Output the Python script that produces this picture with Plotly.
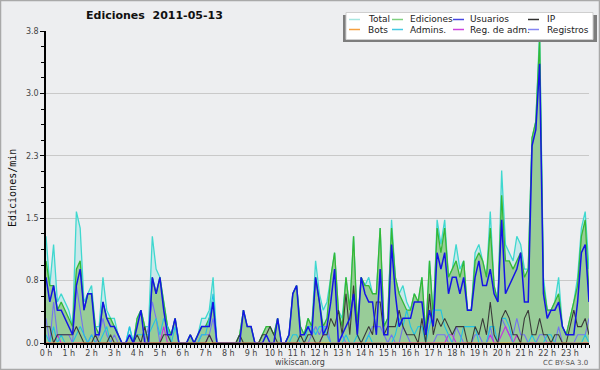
import plotly.graph_objects as go

# ---------------- data (edits per minute, 10-minute bins) ----------------
HOUR_LABELS = ["0 h", "1 h", "2 h", "3 h", "4 h", "5 h", "6 h", "7 h", "8 h", "9 h", "10 h", "11 h",
               "12 h", "13 h", "14 h", "15 h", "16 h", "17 h", "18 h", "19 h", "20 h", "21 h", "22 h", "23 h"]

total = [
    1.3, 0.7, 1.2, 0.5, 0.6, 0.5,   0.4, 0.2, 1.6, 1.4, 0.5, 0.6,   0.7, 0.2, 0.2, 0.8, 0.4, 0.3,
    0.3, 0.1, 0.0, 0.0, 0.2, 0.0,   0.3, 0.4, 0.2, 0.2, 1.3, 0.9,   0.8, 0.5, 0.2, 0.1, 0.3, 0.0,
    0.0, 0.0, 0.1, 0.0, 0.1, 0.3,   0.3, 0.4, 0.8, 0.0, 0.0, 0.0,   0.0, 0.0, 0.0, 0.1, 0.4, 0.2,
    0.2, 0.0, 0.0, 0.1, 0.2, 0.2,   0.1, 0.3, 0.0, 0.0, 0.1, 0.6,   0.7, 0.2, 0.1, 0.3, 0.2, 1.0,
    0.6, 0.4, 0.5, 0.8, 1.1, 0.4,   0.3, 0.8, 0.4, 1.3, 0.2, 0.8,   0.7, 0.8, 0.6, 0.6, 1.4, 0.2,
    0.3, 1.5, 0.8, 0.6, 0.7, 0.5,   0.4, 0.6, 0.5, 0.8, 0.1, 1.0,   0.3, 1.5, 1.2, 1.5, 0.8, 0.9,
    1.2, 0.9, 1.0, 0.4, 0.4, 1.1,   1.2, 1.0, 0.8, 1.6, 0.7, 0.5,   2.1, 1.2, 1.1, 1.0, 1.3, 1.2,
    0.9, 0.9, 2.5, 2.7, 3.8, 0.8,   0.4, 0.4, 0.5, 0.8, 0.2, 0.1,   0.3, 0.5, 0.8, 1.4, 1.6, 0.9,
]

ediciones = [
    1.0, 0.7, 0.7, 0.4, 0.5, 0.4,   0.3, 0.2, 0.9, 1.0, 0.4, 0.6,   0.6, 0.2, 0.1, 0.5, 0.3, 0.3,
    0.2, 0.1, 0.0, 0.0, 0.1, 0.0,   0.3, 0.4, 0.2, 0.0, 0.8, 0.6,   0.8, 0.5, 0.2, 0.1, 0.3, 0.0,
    0.0, 0.0, 0.1, 0.0, 0.1, 0.2,   0.2, 0.3, 0.5, 0.0, 0.0, 0.0,   0.0, 0.0, 0.0, 0.1, 0.4, 0.2,
    0.2, 0.0, 0.0, 0.1, 0.2, 0.2,   0.1, 0.3, 0.0, 0.0, 0.1, 0.6,   0.7, 0.2, 0.1, 0.3, 0.2, 0.8,
    0.5, 0.2, 0.3, 0.8, 1.1, 0.4,   0.2, 0.8, 0.4, 1.3, 0.2, 0.8,   0.7, 0.7, 0.6, 0.6, 1.4, 0.2,
    0.3, 1.4, 0.8, 0.6, 0.5, 0.4,   0.4, 0.6, 0.5, 0.8, 0.1, 1.0,   0.3, 1.4, 1.1, 1.4, 0.8, 0.9,
    1.0, 0.8, 1.0, 0.4, 0.4, 1.0,   1.1, 1.0, 0.8, 1.4, 0.7, 0.5,   1.8, 1.0, 1.0, 0.9, 1.0, 1.1,
    0.8, 0.9, 2.5, 2.7, 3.7, 0.7,   0.4, 0.4, 0.5, 0.6, 0.2, 0.1,   0.3, 0.5, 0.7, 1.3, 1.5, 0.6,
]

usuarios = [
    0.8, 0.5, 0.7, 0.4, 0.4, 0.3,   0.2, 0.1, 0.7, 0.9, 0.4, 0.6,   0.6, 0.1, 0.1, 0.5, 0.3, 0.2,
    0.2, 0.1, 0.0, 0.0, 0.1, 0.0,   0.2, 0.4, 0.0, 0.0, 0.8, 0.6,   0.8, 0.4, 0.1, 0.1, 0.3, 0.0,
    0.0, 0.0, 0.1, 0.0, 0.1, 0.2,   0.2, 0.2, 0.5, 0.0, 0.0, 0.0,   0.0, 0.0, 0.0, 0.0, 0.4, 0.2,
    0.2, 0.0, 0.0, 0.0, 0.1, 0.0,   0.0, 0.3, 0.0, 0.0, 0.1, 0.6,   0.7, 0.1, 0.1, 0.2, 0.1, 0.8,
    0.5, 0.1, 0.2, 0.5, 0.9, 0.0,   0.1, 0.2, 0.3, 0.6, 0.1, 0.8,   0.6, 0.5, 0.5, 0.1, 0.9, 0.1,
    0.1, 1.2, 0.6, 0.2, 0.3, 0.3,   0.3, 0.5, 0.5, 0.5, 0.1, 0.4,   0.2, 1.1, 0.9, 1.1, 0.6, 0.8,
    0.8, 0.6, 0.8, 0.4, 0.4, 0.8,   1.0, 0.7, 0.7, 0.9, 0.6, 0.5,   1.5, 0.6, 0.7, 0.8, 0.9, 1.1,
    0.5, 0.5, 2.4, 2.6, 3.4, 0.6,   0.3, 0.4, 0.4, 0.5, 0.2, 0.1,   0.1, 0.1, 0.5, 1.1, 1.2, 0.5,
]

ip = [
    0.2, 0.2, 0.0, 0.1, 0.1, 0.1,   0.1, 0.1, 0.2, 0.1, 0.0, 0.0,   0.0, 0.1, 0.0, 0.0, 0.0, 0.1,
    0.0, 0.0, 0.0, 0.0, 0.0, 0.0,   0.1, 0.0, 0.2, 0.0, 0.0, 0.0,   0.0, 0.1, 0.1, 0.0, 0.0, 0.0,
    0.0, 0.0, 0.0, 0.0, 0.0, 0.0,   0.0, 0.1, 0.0, 0.0, 0.0, 0.0,   0.0, 0.0, 0.0, 0.1, 0.0, 0.0,
    0.0, 0.0, 0.0, 0.1, 0.1, 0.2,   0.1, 0.0, 0.0, 0.0, 0.0, 0.0,   0.0, 0.1, 0.0, 0.1, 0.1, 0.0,
    0.0, 0.1, 0.1, 0.3, 0.2, 0.4,   0.1, 0.6, 0.1, 0.7, 0.1, 0.0,   0.1, 0.2, 0.1, 0.5, 0.5, 0.1,
    0.2, 0.2, 0.2, 0.4, 0.2, 0.1,   0.1, 0.1, 0.0, 0.3, 0.0, 0.6,   0.1, 0.3, 0.2, 0.3, 0.2, 0.1,
    0.2, 0.2, 0.2, 0.0, 0.0, 0.2,   0.1, 0.3, 0.1, 0.5, 0.1, 0.0,   0.3, 0.4, 0.3, 0.1, 0.1, 0.0,
    0.3, 0.4, 0.1, 0.1, 0.3, 0.1,   0.1, 0.0, 0.1, 0.1, 0.0, 0.0,   0.2, 0.4, 0.2, 0.2, 0.3, 0.1,
]

bots = [0.0] * 144

admins = [
    0.1, 0.0, 0.2, 0.0, 0.1, 0.0,   0.0, 0.0, 0.1, 0.2, 0.1, 0.0,   0.1, 0.0, 0.0, 0.1, 0.2, 0.0,
    0.0, 0.0, 0.0, 0.0, 0.2, 0.0,   0.1, 0.1, 0.1, 0.1, 0.2, 0.3,   0.1, 0.3, 0.2, 0.0, 0.2, 0.0,
    0.0, 0.0, 0.0, 0.0, 0.0, 0.1,   0.1, 0.3, 0.6, 0.0, 0.0, 0.0,   0.0, 0.0, 0.0, 0.0, 0.0, 0.0,
    0.0, 0.0, 0.0, 0.0, 0.0, 0.0,   0.0, 0.0, 0.0, 0.0, 0.0, 0.1,   0.1, 0.0, 0.0, 0.2, 0.2, 0.1,
    0.2, 0.2, 0.1, 0.0, 0.0, 0.0,   0.0, 0.1, 0.0, 0.0, 0.1, 0.0,   0.0, 0.1, 0.0, 0.0, 0.0, 0.0,
    0.0, 0.0, 0.1, 0.3, 0.2, 0.4,   0.2, 0.1, 0.2, 0.2, 0.0, 0.2,   0.4, 0.4, 0.4, 0.2, 0.1, 0.0,
    0.0, 0.0, 0.2, 0.2, 0.2, 0.2,   0.0, 0.0, 0.0, 0.2, 0.2, 0.0,   0.3, 0.3, 0.2, 0.0, 0.0, 0.0,
    0.0, 0.0, 0.1, 0.0, 0.0, 0.0,   0.1, 0.1, 0.0, 0.0, 0.0, 0.0,   0.0, 0.0, 0.0, 0.0, 0.1, 0.0,
]

reg_adm = [
    0.0, 0.0, 0.0, 0.1, 0.0, 0.0,   0.0, 0.0, 0.0, 0.0, 0.0, 0.0,   0.0, 0.0, 0.0, 0.0, 0.0, 0.0,
    0.0, 0.0, 0.0, 0.0, 0.0, 0.0,   0.0, 0.0, 0.0, 0.0, 0.0, 0.0,   0.0, 0.2, 0.0, 0.0, 0.0, 0.0,
    0.0, 0.0, 0.0, 0.0, 0.0, 0.0,   0.0, 0.1, 0.0, 0.0, 0.0, 0.0,   0.0, 0.0, 0.0, 0.0, 0.0, 0.0,
    0.0, 0.0, 0.0, 0.0, 0.0, 0.0,   0.0, 0.0, 0.0, 0.0, 0.0, 0.0,   0.0, 0.0, 0.0, 0.0, 0.0, 0.0,
    0.0, 0.1, 0.1, 0.0, 0.0, 0.0,   0.0, 0.0, 0.0, 0.0, 0.0, 0.0,   0.0, 0.0, 0.0, 0.0, 0.0, 0.0,
    0.0, 0.0, 0.0, 0.0, 0.0, 0.0,   0.0, 0.0, 0.0, 0.0, 0.0, 0.0,   0.0, 0.0, 0.0, 0.0, 0.1, 0.1,
    0.0, 0.0, 0.0, 0.0, 0.0, 0.0,   0.0, 0.0, 0.0, 0.1, 0.0, 0.0,   0.1, 0.2, 0.1, 0.0, 0.1, 0.0,
    0.0, 0.0, 0.0, 0.0, 0.0, 0.0,   0.0, 0.0, 0.0, 0.0, 0.0, 0.0,   0.0, 0.0, 0.0, 0.0, 0.0, 0.0,
]

registros = [
    0.3, 0.0, 0.5, 0.1, 0.1, 0.1,   0.1, 0.0, 0.7, 0.4, 0.1, 0.0,   0.1, 0.0, 0.1, 0.3, 0.1, 0.0,
    0.1, 0.0, 0.0, 0.0, 0.1, 0.0,   0.0, 0.0, 0.0, 0.2, 0.5, 0.3,   0.0, 0.0, 0.0, 0.0, 0.0, 0.0,
    0.0, 0.0, 0.0, 0.0, 0.0, 0.1,   0.1, 0.1, 0.3, 0.0, 0.0, 0.0,   0.0, 0.0, 0.0, 0.0, 0.0, 0.0,
    0.0, 0.0, 0.0, 0.0, 0.0, 0.0,   0.0, 0.0, 0.0, 0.0, 0.0, 0.0,   0.0, 0.0, 0.0, 0.0, 0.1, 0.2,
    0.1, 0.2, 0.2, 0.0, 0.0, 0.0,   0.1, 0.0, 0.0, 0.0, 0.0, 0.0,   0.0, 0.1, 0.2, 0.2, 0.2, 0.1,
    0.0, 0.1, 0.0, 0.0, 0.2, 0.1,   0.0, 0.0, 0.0, 0.0, 0.0, 0.0,   0.0, 0.1, 0.1, 0.1, 0.0, 0.0,
    0.2, 0.1, 0.0, 0.0, 0.0, 0.1,   0.1, 0.0, 0.0, 0.2, 0.0, 0.0,   0.3, 0.2, 0.1, 0.1, 0.3, 0.1,
    0.1, 0.0, 0.0, 0.0, 0.1, 0.1,   0.0, 0.0, 0.0, 0.2, 0.0, 0.0,   0.0, 0.0, 0.1, 0.1, 0.1, 0.3,
]

# x positions: 10-minute bins, expressed in hours
x = [i / 6 for i in range(len(total))]

# ---------------- layout geometry (pixels) ----------------
FIG_W, FIG_H = 600, 370
L, R, T, B = 46, 11, 31, 27
PW, PH = FIG_W - L - R, FIG_H - T - B


def xp(px):
    return (px - L) / PW


def yp(py):
    return (FIG_H - B - py) / PH


BG = "#edeef0"

fig = go.Figure()

# filled areas
fig.add_trace(go.Scatter(x=x, y=total, name="Total", mode="lines", fill="tozeroy",
                         fillcolor="#cae8ea", line=dict(color="#3fd8cf", width=1.3)))
fig.add_trace(go.Scatter(x=x, y=ediciones, name="Ediciones", mode="lines", fill="tozeroy",
                         fillcolor="#98cc98", line=dict(color="#35b835", width=1.3)))
# lines
fig.add_trace(go.Scatter(x=x, y=registros, name="Registros", mode="lines",
                         line=dict(color="#7373f0", width=1.1)))
fig.add_trace(go.Scatter(x=x, y=reg_adm, name="Reg. de adm.", mode="lines",
                         line=dict(color="#c530e0", width=1.1)))
fig.add_trace(go.Scatter(x=x, y=admins, name="Admins.", mode="lines",
                         line=dict(color="#22c2e2", width=1.1)))
fig.add_trace(go.Scatter(x=x, y=ip, name="IP", mode="lines",
                         line=dict(color="#3a3a3a", width=1.1)))
fig.add_trace(go.Scatter(x=x, y=usuarios, name="Usuarios", mode="lines",
                         line=dict(color="#1414e6", width=1.5)))
fig.add_trace(go.Scatter(x=x, y=bots, name="Bots", mode="lines",
                         line=dict(color="#ff9a30", width=1.1)))

YMAX = 3.8
ytickvals = [0, 0.76, 1.52, 2.28, 3.04, 3.8]
yticktext = ["0.0", "0.8", "1.5", "2.3", "3.0", "3.8"]

fig.update_layout(
    width=FIG_W, height=FIG_H,
    margin=dict(l=L, r=R, t=T, b=B, pad=0),
    paper_bgcolor=BG, plot_bgcolor=BG,
    showlegend=False,
    font=dict(family="DejaVu Sans", size=8, color="#444"),
    xaxis=dict(range=[0, 143 / 6], tickmode="array", tickvals=list(range(24)), ticktext=HOUR_LABELS,
               showgrid=False, zeroline=False, showline=True, linecolor="#000", linewidth=1.5,
               ticks="outside", ticklen=2, tickcolor="#000", tickwidth=1,
               tickfont=dict(family="DejaVu Sans", size=8, color="#444"),
               minor=dict(dtick=1 / 6, tick0=0, ticks="outside", ticklen=3, tickcolor="#000", showgrid=False),
               automargin=False, fixedrange=True),
    yaxis=dict(range=[0, YMAX], tickmode="array", tickvals=ytickvals, ticktext=yticktext,
               showgrid=True, gridcolor="#c9c9c9", gridwidth=1, zeroline=False,
               showline=True, linecolor="#000", linewidth=1.5,
               ticks="outside", ticklen=4, tickcolor="#000", tickwidth=1,
               tickfont=dict(family="DejaVu Sans", size=8, color="#444"),
               minor=dict(dtick=0.19, tick0=0, ticks="outside", ticklen=3, tickcolor="#000", showgrid=False),
               automargin=False, fixedrange=True),
)

shapes = []
annotations = []

# outer border
shapes.append(dict(type="rect", xref="paper", yref="paper",
                   x0=xp(0.5), x1=xp(599.5), y0=yp(369.5), y1=yp(0.5),
                   line=dict(color="#a9a9a9", width=1.5), fillcolor="rgba(0,0,0,0)", layer="above"))

# legend box with shadow
shapes.append(dict(type="rect", xref="paper", yref="paper",
                   x0=xp(343), x1=xp(597), y0=yp(42), y1=yp(15),
                   line=dict(width=0), fillcolor="#7d7d7d", layer="above"))
shapes.append(dict(type="rect", xref="paper", yref="paper",
                   x0=xp(346), x1=xp(593), y0=yp(39.5), y1=yp(12.5),
                   line=dict(color="#cfcfcf", width=1), fillcolor="#ffffff", layer="above"))

legend_items = [
    ("Total", "#a6e6e0", 349, 366, 19.5),
    ("Ediciones", "#7fd07f", 392, 408, 19.5),
    ("Usuarios", "#4646e2", 453, 468, 19.5),
    ("IP", "#303030", 528, 545, 19.5),
    ("Bots", "#f5a040", 349, 366, 29.5),
    ("Admins.", "#45c8e2", 392, 408, 29.5),
    ("Reg. de adm.", "#cc44dd", 453, 468, 29.5),
    ("Registros", "#8585f2", 528, 545, 29.5),
]
for name, color, sx, tx, ty in legend_items:
    shapes.append(dict(type="line", xref="paper", yref="paper",
                       x0=xp(sx), x1=xp(sx + 11), y0=yp(ty), y1=yp(ty),
                       line=dict(color=color, width=1.5), layer="above"))
    annotations.append(dict(text=name, xref="paper", yref="paper", x=xp(tx), y=yp(ty),
                            xanchor="left", yanchor="middle", showarrow=False,
                            font=dict(family="DejaVu Sans", size=9, color="#222")))

# title
annotations.append(dict(text="<b>Ediciones\u00a0 2011-05-13</b>", xref="paper", yref="paper",
                        x=xp(154), y=yp(16), xanchor="center", yanchor="middle", showarrow=False,
                        font=dict(family="DejaVu Sans", size=11, color="#111")))
# y title
annotations.append(dict(text="Ediciones/min", xref="paper", yref="paper",
                        x=xp(12), y=yp(188), xanchor="center", yanchor="middle", textangle=-90,
                        showarrow=False, font=dict(family="DejaVu Sans Mono", size=10, color="#111")))
# footer
annotations.append(dict(text="wikiscan.org", xref="paper", yref="paper",
                        x=xp(300), y=yp(362.5), xanchor="center", yanchor="middle", showarrow=False,
                        font=dict(family="DejaVu Sans", size=8, color="#444")))
annotations.append(dict(text="CC BY-SA 3.0", xref="paper", yref="paper",
                        x=xp(590), y=yp(362.5), xanchor="right", yanchor="middle", showarrow=False,
                        font=dict(family="DejaVu Sans", size=7, color="#555")))

fig.update_layout(shapes=shapes, annotations=annotations)

fig.write_html("out.html", config={"displayModeBar": False},
               post_script="document.body.style.margin='0';document.body.style.padding='0';"
                           "document.body.style.overflow='hidden';")
